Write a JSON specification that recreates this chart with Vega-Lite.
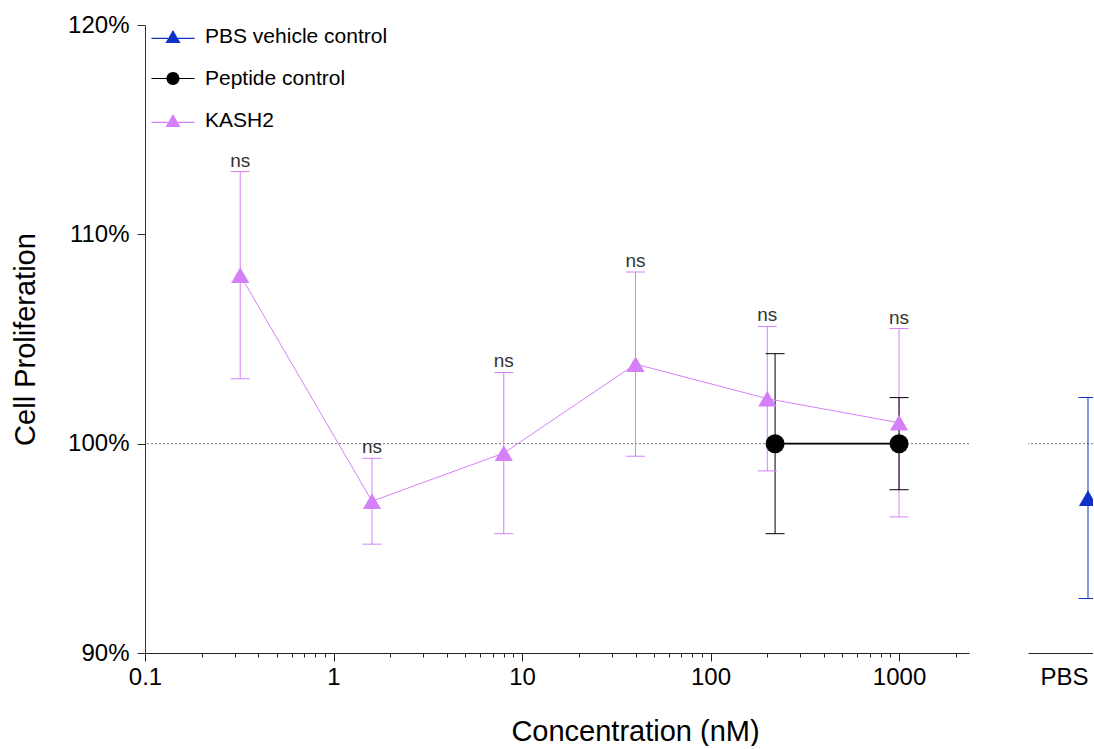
{
  "$schema": "https://vega.github.io/schema/vega-lite/v6.json",
  "padding": {"left": 11, "top": 13, "right": 0, "bottom": 0},
  "background": "white",
  "config": {
    "view": {"stroke": null},
    "font": "Liberation Sans",
    "axis": {"labelFont": "Liberation Sans", "titleFont": "Liberation Sans", "labelColor": "#000", "titleColor": "#000", "titleFontWeight": "normal", "domainColor": "#333", "tickColor": "#333", "grid": false},
    "legend": {"labelFont": "Liberation Sans"}
  },
  "datasets": {
    "d": [
      {"series": "KASH2", "conc": 0.32, "mean": 108.05, "lo": 103.1, "hi": 113.0, "sig": "ns"},
      {"series": "KASH2", "conc": 1.6, "mean": 97.25, "lo": 95.2, "hi": 99.3, "sig": "ns"},
      {"series": "KASH2", "conc": 8, "mean": 99.55, "lo": 95.7, "hi": 103.4, "sig": "ns"},
      {"series": "KASH2", "conc": 40, "mean": 103.8, "lo": 99.4, "hi": 108.2, "sig": "ns"},
      {"series": "KASH2", "conc": 200, "mean": 102.15, "lo": 98.7, "hi": 105.6, "sig": "ns"},
      {"series": "KASH2", "conc": 1000, "mean": 101.0, "lo": 96.5, "hi": 105.5, "sig": "ns"},
      {"series": "Peptide control", "conc": 220, "mean": 100, "lo": 95.7, "hi": 104.3},
      {"series": "Peptide control", "conc": 1000, "mean": 100, "lo": 97.8, "hi": 102.2}
    ],
    "pbs": [
      {"series": "PBS vehicle control", "group": "PBS", "mean": 97.4, "lo": 92.6, "hi": 102.2}
    ]
  },
  "spacing": 59,
  "bounds": "flush",
  "resolve": {"scale": {"y": "independent", "color": "independent", "shape": "independent", "strokeWidth": "independent", "fill": "independent", "stroke": "independent"}, "legend": {"color": "independent", "shape": "independent"}},
  "hconcat": [
    {
      "width": 824,
      "height": 628,
      "layer": [
        {
          "data": {"values": [{}]},
          "mark": {"type": "rule", "color": "#7a7a7a", "strokeDash": [2, 2], "strokeWidth": 1},
          "encoding": {"y": {"datum": 100, "type": "quantitative", "title": "Cell Proliferation", "scale": {"domain": [90, 120], "nice": false, "zero": false},
            "axis": {"values": [90, 100, 110, 120], "labelExpr": "datum.value + '%'", "tickSize": 8, "labelFontSize": 24, "labelPadding": 8, "titleFontSize": 29, "titlePadding": 27, "domainColor": "#333", "tickColor": "#333"}}}
        },
        {
          "data": {"name": "d"},
          "encoding": {
            "x": {
              "field": "conc", "type": "quantitative", "title": "Concentration (nM)",
              "scale": {"type": "log", "domain": [0.1, 2350], "nice": false},
              "axis": {
                "values": [0.1, 0.2, 0.3, 0.4, 0.5, 0.6, 0.7, 0.8, 0.9, 1, 2, 3, 4, 5, 6, 7, 8, 9, 10, 20, 30, 40, 50, 60, 70, 80, 90, 100, 200, 300, 400, 500, 600, 700, 800, 900, 1000, 2000],
                "labelExpr": "abs(log(datum.value)/LN10 - round(log(datum.value)/LN10)) < 0.01 ? toString(datum.value) : ''",
                "tickSize": {"condition": {"test": "abs(log(datum.value)/LN10 - round(log(datum.value)/LN10)) < 0.01", "value": 8}, "value": 4},
                "labelFontSize": 24, "labelPadding": 4, "labelOverlap": false, "labelFlush": false,
                "titleFontSize": 29, "titlePadding": 28, "titleX": 490,
                "domainColor": "#222", "tickColor": "#222"
              }
            },
            "y": {
              "field": "mean", "type": "quantitative", "title": "Cell Proliferation",
              "scale": {"domain": [90, 120], "nice": false, "zero": false},
              "axis": {"values": [90, 100, 110, 120], "labelExpr": "datum.value + '%'", "tickSize": 8, "labelFontSize": 24, "labelPadding": 8, "titleFontSize": 29, "titlePadding": 27, "domainColor": "#333", "tickColor": "#333"}
            }
          },
          "layer": [
            {
              "mark": {"type": "rule", "strokeWidth": 1},
              "encoding": {
                "y": {"field": "lo", "type": "quantitative", "title": "Cell Proliferation", "scale": {"domain": [90, 120], "nice": false, "zero": false},
                  "axis": {"values": [90, 100, 110, 120], "labelExpr": "datum.value + '%'", "tickSize": 8, "labelFontSize": 24, "labelPadding": 8, "titleFontSize": 29, "titlePadding": 27, "domainColor": "#333", "tickColor": "#333"}},
                "y2": {"field": "hi"},
                "stroke": {"field": "series", "type": "nominal", "scale": {"domain": ["KASH2", "Peptide control"], "range": ["#D580F8", "#000000"]}, "legend": null}
              }
            },
            {
              "transform": [{"fold": ["lo", "hi"], "as": ["bound", "val"]}],
              "mark": {"type": "tick", "orient": "horizontal", "size": 19, "thickness": 1, "opacity": 1},
              "encoding": {
                "y": {"field": "val", "type": "quantitative", "title": "Cell Proliferation", "scale": {"domain": [90, 120], "nice": false, "zero": false},
                  "axis": {"values": [90, 100, 110, 120], "labelExpr": "datum.value + '%'", "tickSize": 8, "labelFontSize": 24, "labelPadding": 8, "titleFontSize": 29, "titlePadding": 27, "domainColor": "#333", "tickColor": "#333"}},
                "fill": {"field": "series", "type": "nominal", "scale": {"domain": ["KASH2", "Peptide control"], "range": ["#D580F8", "#000000"]}, "legend": null}
              }
            },
            {
              "mark": {"type": "line"},
              "encoding": {
                "stroke": {"field": "series", "type": "nominal", "scale": {"domain": ["KASH2", "Peptide control"], "range": ["#D580F8", "#000000"]}, "legend": null},
                "strokeWidth": {"field": "series", "type": "nominal", "scale": {"domain": ["KASH2", "Peptide control"], "range": [1, 1.6]}, "legend": null}
              }
            },
            {
              "transform": [{"filter": "datum.series == 'KASH2'"}],
              "mark": {"type": "point", "shape": "triangle-up", "filled": true, "size": 330, "opacity": 1},
              "encoding": {
                "fill": {"field": "series", "type": "nominal", "scale": {"domain": ["KASH2", "Peptide control"], "range": ["#D580F8", "#000000"]}, "legend": null}
              }
            },
            {
              "transform": [{"filter": "datum.series == 'Peptide control'"}],
              "mark": {"type": "point", "shape": "circle", "filled": true, "size": 361, "opacity": 1},
              "encoding": {
                "fill": {"field": "series", "type": "nominal", "scale": {"domain": ["KASH2", "Peptide control"], "range": ["#D580F8", "#000000"]}, "legend": null}
              }
            },
            {
              "transform": [{"filter": "isValid(datum.sig)"}],
              "mark": {"type": "text", "fontSize": 19, "color": "#333", "baseline": "alphabetic", "dy": -5},
              "encoding": {
                "y": {"field": "hi", "type": "quantitative", "title": "Cell Proliferation", "scale": {"domain": [90, 120], "nice": false, "zero": false},
                  "axis": {"values": [90, 100, 110, 120], "labelExpr": "datum.value + '%'", "tickSize": 8, "labelFontSize": 24, "labelPadding": 8, "titleFontSize": 29, "titlePadding": 27, "domainColor": "#333", "tickColor": "#333"}},
                "text": {"field": "sig"}
              }
            },
            {
              "mark": {"type": "point", "filled": true, "opacity": 0},
              "encoding": {
                "color": {"field": "series", "type": "nominal", "scale": {"domain": ["PBS vehicle control", "Peptide control", "KASH2"], "range": ["#1030C8", "#000000", "#D580F8"]},
                  "legend": {"title": null, "orient": "none", "legendX": 17.5, "legendY": 1, "labelFontSize": 21, "labelColor": "#000", "labelOffset": 21.5, "symbolSize": 225, "symbolStrokeWidth": 0, "symbolOpacity": 1, "rowPadding": 20, "padding": 0, "labelLimit": 400}},
                "shape": {"field": "series", "type": "nominal", "scale": {"domain": ["PBS vehicle control", "Peptide control", "KASH2"], "range": [
                  "M-1,0.866L1,0.866L0,-0.866Z M-2.87,0.17H-0.66V0.33H-2.87Z M0.66,0.17H2.87V0.33H0.66Z",
                  "M-0.867,0A0.867,0.867,0,1,1,0.867,0A0.867,0.867,0,1,1,-0.867,0Z M-2.87,-0.08H-0.87V0.08H-2.87Z M0.87,-0.08H2.87V0.08H0.87Z",
                  "M-1,0.866L1,0.866L0,-0.866Z M-2.87,0.17H-0.66V0.33H-2.87Z M0.66,0.17H2.87V0.33H0.66Z"
                ]},
                  "legend": {"title": null, "orient": "none", "legendX": 17.5, "legendY": 1, "labelFontSize": 21, "labelColor": "#000", "labelOffset": 21.5, "symbolSize": 225, "symbolStrokeWidth": 0, "symbolOpacity": 1, "rowPadding": 20, "padding": 0, "labelLimit": 400}}
              }
            }
          ]
        }
      ]
    },
    {
      "width": 65,
      "height": 628,
      "layer": [
        {
          "data": {"values": [{}]},
          "mark": {"type": "rule", "color": "#7a7a7a", "strokeDash": [2, 2], "strokeWidth": 1, "clip": true},
          "encoding": {"y": {"datum": 100, "type": "quantitative", "scale": {"domain": [90, 120], "nice": false, "zero": false}, "axis": null}}
        },
        {
          "data": {"name": "pbs"},
          "encoding": {
            "x": {"field": "group", "type": "nominal", "title": null, "scale": {"type": "point", "padding": 0, "align": 0.923},
              "axis": {"labelFontSize": 24, "labelAlign": "right", "labelAngle": 0, "labelPadding": 4, "tickSize": 8, "tickOpacity": 0, "domainColor": "#222"}},
            "y": {"field": "mean", "type": "quantitative", "scale": {"domain": [90, 120], "nice": false, "zero": false}, "axis": null}
          },
          "layer": [
            {
              "mark": {"type": "rule", "color": "#1030C8", "strokeWidth": 1, "clip": true},
              "encoding": {"y": {"field": "lo", "type": "quantitative", "scale": {"domain": [90, 120], "nice": false, "zero": false}, "axis": null}, "y2": {"field": "hi"}}
            },
            {
              "transform": [{"fold": ["lo", "hi"], "as": ["bound", "val"]}],
              "mark": {"type": "tick", "orient": "horizontal", "size": 19, "thickness": 1, "color": "#1030C8", "opacity": 1, "clip": true},
              "encoding": {"y": {"field": "val", "type": "quantitative", "scale": {"domain": [90, 120], "nice": false, "zero": false}, "axis": null}}
            },
            {
              "mark": {"type": "point", "shape": "triangle-up", "filled": true, "size": 330, "opacity": 1, "color": "#1030C8", "clip": true}
            }
          ]
        }
      ]
    }
  ]
}
